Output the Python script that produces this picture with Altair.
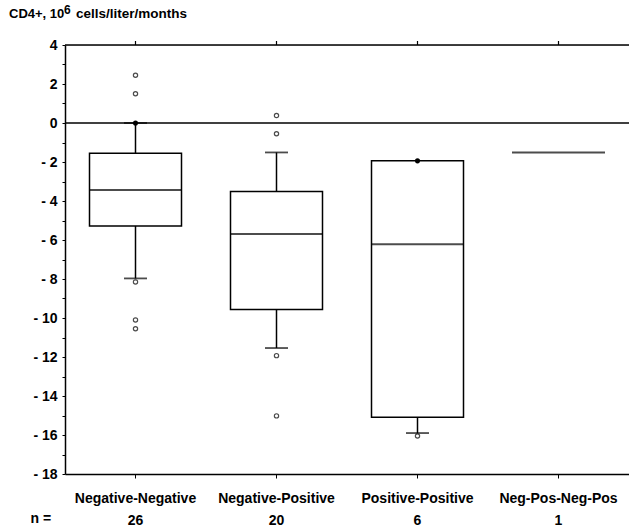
import altair as alt
import pandas as pd

groups = ["Negative-Negative", "Negative-Positive", "Positive-Positive", "Neg-Pos-Neg-Pos"]
counts = ["26", "20", "6", "1"]

# box statistics
box_group = ["Negative-Negative", "Negative-Positive", "Positive-Positive"]
q1 = [-5.28, -9.57, -15.09]
q3 = [-1.55, -3.51, -1.94]
medians = [-3.43, -5.69, -6.22]
whisk_lo = [-7.97, -11.54, -15.90]
whisk_hi = [0.0, -1.51, -1.94]

# single-subject group drawn as a line
single_group = ["Neg-Pos-Neg-Pos"]
single_value = [-1.51]

# individual points
pt_group = ["Negative-Negative"] * 6 + ["Negative-Positive"] * 4 + ["Positive-Positive"] * 2
pt_value = [2.45, 1.50, 0.0, -8.15, -10.10, -10.55,
            0.38, -0.55, -11.93, -15.02,
            -1.94, -16.05]
pt_filled = [False, False, True, False, False, False,
             False, False, False, False,
             True, False]

y_ticks = list(range(-18, 5))

title_parts = ["CD4+, 10", "6", "cells/liter/months"]

FONT = "Liberation Sans"

boxes = pd.DataFrame({"g": box_group, "q1": q1, "q3": q3, "med": medians,
                      "lo": whisk_lo, "hi": whisk_hi})
single = pd.DataFrame({"g": single_group, "v": single_value})
pts = pd.DataFrame({"g": pt_group, "v": pt_value, "filled": pt_filled})
cats = pd.DataFrame({"g": groups})
zero = pd.DataFrame({"v": [0.0]})
top = pd.DataFrame({"v": [4.0]})
one = pd.DataFrame({"a": [0]})

label_expr = "datum.label"
for g, n in zip(reversed(groups), reversed(counts)):
    label_expr = f"datum.label == '{g}' ? ['{g}', '{n}'] : ({label_expr})"

xscale = alt.Scale(type="band", domain=groups, paddingInner=0, paddingOuter=0)
yscale = alt.Scale(domain=[-18, 4], nice=False, zero=False)

x_axis = alt.Axis(
    orient="bottom", title="n =", titleX=-35, titleY=48, titleAlign="left",
    titleAnchor="start", titleBaseline="alphabetic", titleAngle=0,
    titleFont=FONT, titleFontSize=14, titleFontWeight="bold", titleColor="black",
    labelExpr=label_expr, labelAngle=0, labelFont=FONT, labelFontSize=14,
    labelFontWeight="bold", labelColor="black", labelPadding=13, labelLineHeight=22,
    labelBaseline="top", labelOverlap=False,
    tickSize=4, tickColor="black", domainColor="black", domainWidth=1.5, grid=False)

y_axis = alt.Axis(
    values=y_ticks, labelOverlap=False, tickCount=23,
    labelExpr="datum.value % 2 != 0 ? '' : (datum.value < 0 ? '- ' + abs(datum.value) : '' + datum.value)",
    labelFont=FONT, labelFontSize=14, labelFontWeight="bold", labelColor="black",
    labelPadding=5, tickSize=3, tickColor="black", domainColor="black",
    domainWidth=1.5, grid=False, title=None)


def xe():
    return alt.X("g:N", scale=xscale, sort=groups, axis=x_axis, title="n =")


def ye(field):
    return alt.Y(field, scale=yscale, axis=y_axis, title=None)


box = alt.Chart(boxes).mark_bar(size=92, fill="white", stroke="black", strokeWidth=1.5).encode(
    x=xe(), y=ye("q1:Q"), y2="q3:Q")

whisk_up = alt.Chart(boxes).mark_rule(color="black", strokeWidth=1.5).encode(
    x=xe(), y=ye("q3:Q"), y2="hi:Q")
whisk_dn = alt.Chart(boxes).mark_rule(color="black", strokeWidth=1.5).encode(
    x=xe(), y=ye("lo:Q"), y2="q1:Q")

cap_hi = alt.Chart(boxes).transform_filter("datum.hi != datum.q3").mark_tick(
    size=23, thickness=1.8, color="black").encode(x=xe(), y=ye("hi:Q"))
cap_lo = alt.Chart(boxes).mark_tick(size=23, thickness=1.8, color="black").encode(
    x=xe(), y=ye("lo:Q"))

med = alt.Chart(boxes).mark_tick(size=92, thickness=2, color="black").encode(
    x=xe(), y=ye("med:Q"))

single_line = alt.Chart(single).mark_tick(size=93, thickness=2, color="black").encode(
    x=xe(), y=ye("v:Q"))

open_pts = alt.Chart(pts).transform_filter("!datum.filled").mark_point(
    shape="circle", size=18, filled=False, color="black", strokeWidth=1.2).encode(
    x=xe(), y=ye("v:Q"))
filled_pts = alt.Chart(pts).transform_filter("datum.filled").mark_point(
    shape="circle", size=26, filled=True, color="black", opacity=1).encode(
    x=xe(), y=ye("v:Q"))

zero_line = alt.Chart(zero).mark_rule(color="black", strokeWidth=1.3).encode(y=ye("v:Q"))
top_line = alt.Chart(top).mark_rule(color="black", strokeWidth=1.5).encode(y=ye("v:Q"))
top_ticks = alt.Chart(cats).mark_rule(color="black", strokeWidth=1.2).encode(
    x=xe(), y=alt.value(-4), y2=alt.value(0))

# title pieces as text (superscript 6)
t1 = alt.Chart(one).mark_text(font=FONT, fontSize=13, fontWeight="bold", align="left",
                              baseline="alphabetic", color="black").encode(
    x=alt.value(-56), y=alt.value(-27), text=alt.value(title_parts[0]))
t2 = alt.Chart(one).mark_text(font=FONT, fontSize=12, fontWeight="bold", align="left",
                              baseline="alphabetic", color="black").encode(
    x=alt.value(-1), y=alt.value(-31), text=alt.value(title_parts[1]))
t3 = alt.Chart(one).mark_text(font=FONT, fontSize=13.5, fontWeight="bold", align="left",
                              baseline="alphabetic", color="black").encode(
    x=alt.value(11), y=alt.value(-27), text=alt.value(title_parts[2]))

chart = alt.layer(
    zero_line, top_line, top_ticks, box, whisk_up, whisk_dn, cap_hi, cap_lo, med, single_line,
    open_pts, filled_pts, t1, t2, t3
).properties(
    width=564, height=429,
    autosize=alt.AutoSizeParams(type="none"),
    padding={"left": 65, "top": 45, "right": 0, "bottom": 53},
).configure_view(stroke=None).configure_axisY(labelOverlap=False).configure(background="white")

chart.save("out.html", embed_options={"renderer": "svg", "actions": False})
